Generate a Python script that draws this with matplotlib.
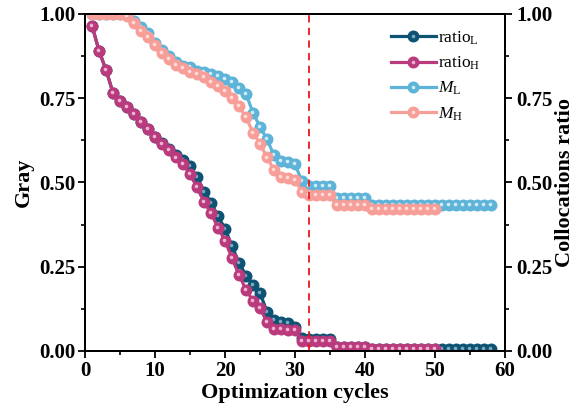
import matplotlib
matplotlib.use('Agg')
import matplotlib.pyplot as plt
from matplotlib.transforms import offset_copy
from matplotlib.legend_handler import HandlerTuple

plt.rcParams['font.family'] = ['Liberation Serif', 'DejaVu Serif']
plt.rcParams['mathtext.fontset'] = 'custom'
plt.rcParams['mathtext.rm'] = 'Liberation Serif'
plt.rcParams['mathtext.it'] = 'Liberation Serif:italic'

# data
cycles_L = list(range(1, 59))
cycles_H = list(range(1, 51))

ratio_L = [0.964, 0.890, 0.833, 0.765, 0.741, 0.723, 0.702, 0.679, 0.658, 0.636,
           0.616, 0.598, 0.580, 0.567, 0.548, 0.515, 0.473, 0.440, 0.399, 0.363,
           0.310, 0.262, 0.223, 0.196, 0.172, 0.116, 0.092, 0.086, 0.083, 0.071,
           0.039, 0.035, 0.035, 0.035, 0.035, 0.013, 0.013, 0.013, 0.013, 0.013,
           0.006, 0.006, 0.006, 0.006, 0.006, 0.006, 0.006, 0.006, 0.006, 0.006,
           0.006, 0.006, 0.006, 0.006, 0.006, 0.006, 0.006, 0.006]
ratio_H = [0.964, 0.890, 0.833, 0.765, 0.741, 0.723, 0.702, 0.679, 0.658, 0.634,
           0.613, 0.595, 0.574, 0.554, 0.524, 0.485, 0.443, 0.408, 0.366, 0.327,
           0.275, 0.225, 0.182, 0.148, 0.128, 0.086, 0.065, 0.065, 0.062, 0.062,
           0.029, 0.029, 0.029, 0.029, 0.029, 0.012, 0.012, 0.012, 0.012, 0.012,
           0.005, 0.005, 0.005, 0.005, 0.005, 0.005, 0.005, 0.005, 0.005, 0.005]
M_L = [1.000, 1.000, 1.000, 1.000, 1.000, 0.997, 0.978, 0.960, 0.943, 0.915,
       0.893, 0.875, 0.858, 0.845, 0.842, 0.832, 0.827, 0.821, 0.815, 0.808,
       0.798, 0.780, 0.762, 0.707, 0.665, 0.628, 0.580, 0.565, 0.560, 0.554,
       0.503, 0.488, 0.488, 0.488, 0.488, 0.455, 0.455, 0.455, 0.455, 0.455,
       0.433, 0.433, 0.433, 0.433, 0.433, 0.433, 0.433, 0.433, 0.433, 0.433,
       0.433, 0.433, 0.433, 0.433, 0.433, 0.433, 0.433, 0.433]
M_H = [1.000, 1.000, 1.000, 1.000, 1.000, 0.994, 0.972, 0.950, 0.932, 0.907,
       0.885, 0.866, 0.849, 0.839, 0.827, 0.821, 0.813, 0.798, 0.786, 0.771,
       0.750, 0.726, 0.693, 0.648, 0.615, 0.574, 0.537, 0.516, 0.512, 0.507,
       0.472, 0.462, 0.462, 0.462, 0.462, 0.433, 0.433, 0.433, 0.433, 0.433,
       0.421, 0.421, 0.421, 0.421, 0.421, 0.421, 0.421, 0.421, 0.421, 0.421]
cut_cycle = 32

fig = plt.figure(figsize=(5.79, 4.09), dpi=100)
ax = fig.add_axes([0.147, 0.142, 0.725, 0.824])

series = [
    (cycles_L, ratio_L, '#0d5373', '#7fa9bf', r'ratio$_\mathrm{L}$'),
    (cycles_H, ratio_H, '#b93a7d', '#efb3d2', r'ratio$_\mathrm{H}$'),
    (cycles_L, M_L, '#5db4d8', '#d2ecf7', r'$M_\mathrm{L}$'),
    (cycles_H, M_H, '#f79e99', '#fddcd9', r'$M_\mathrm{H}$'),
]
hl_trans = offset_copy(ax.transData, fig=fig, x=-0.7, y=0.7, units='points')
handles = []
labels = []
for xs, ys, col, light, lab in series:
    ln, = ax.plot(xs, ys, color=col, lw=2.3, marker='o', ms=7.6, mec=col, mfc=col)
    hl, = ax.plot(xs, ys, ls='none', marker='o', ms=2.6, mec='none', mfc=light,
                  transform=hl_trans)
    handles.append((ln, hl))
    labels.append(lab)

ax.axvline(cut_cycle, color='#e8181c', ls=(0, (4, 3)), lw=1.3)

ax.set_xlim(0, 60)
ax.set_ylim(0, 1)
ax.set_xticks([0, 10, 20, 30, 40, 50, 60])
ax.set_xticks([5, 15, 25, 35, 45, 55], minor=True)
ax.set_yticks([0, 0.25, 0.5, 0.75, 1.0])
ax.set_yticks([0.125, 0.375, 0.625, 0.875], minor=True)
ax.set_yticklabels(['0.00', '0.25', '0.50', '0.75', '1.00'])
ax.tick_params(which='major', direction='out', length=5, width=1.3, labelsize=15, pad=2)
ax.tick_params(which='minor', direction='out', length=3, width=1.2)
for lbl in ax.get_xticklabels() + ax.get_yticklabels():
    lbl.set_fontweight('bold')
for sp in ax.spines.values():
    sp.set_linewidth(1.4)

ax.set_xlabel('Optimization cycles', fontsize=16, fontweight='bold', labelpad=2)
ax.set_ylabel('Gray', fontsize=16, fontweight='bold', labelpad=4)

ax2 = ax.twinx()
ax2.set_ylim(0, 1)
ax2.set_yticks([0, 0.25, 0.5, 0.75, 1.0])
ax2.set_yticks([0.125, 0.375, 0.625, 0.875], minor=True)
ax2.set_yticklabels(['0.00', '0.25', '0.50', '0.75', '1.00'])
ax2.tick_params(which='major', direction='out', length=5, width=1.3, labelsize=15, pad=3)
ax2.tick_params(which='minor', direction='out', length=3, width=1.2)
for lbl in ax2.get_yticklabels():
    lbl.set_fontweight('bold')
ax2.set_ylabel('Collocations ratio', fontsize=16, fontweight='bold', labelpad=2)
for sp in ax2.spines.values():
    sp.set_linewidth(1.4)

ax.legend(handles, labels, handler_map={tuple: HandlerTuple(ndivide=1)},
          loc='upper right', bbox_to_anchor=(0.98, 1.0), frameon=False,
          fontsize=12.5, handlelength=2.6, labelspacing=0.45, handletextpad=0.15)

fig.savefig('out.png', dpi=100)
